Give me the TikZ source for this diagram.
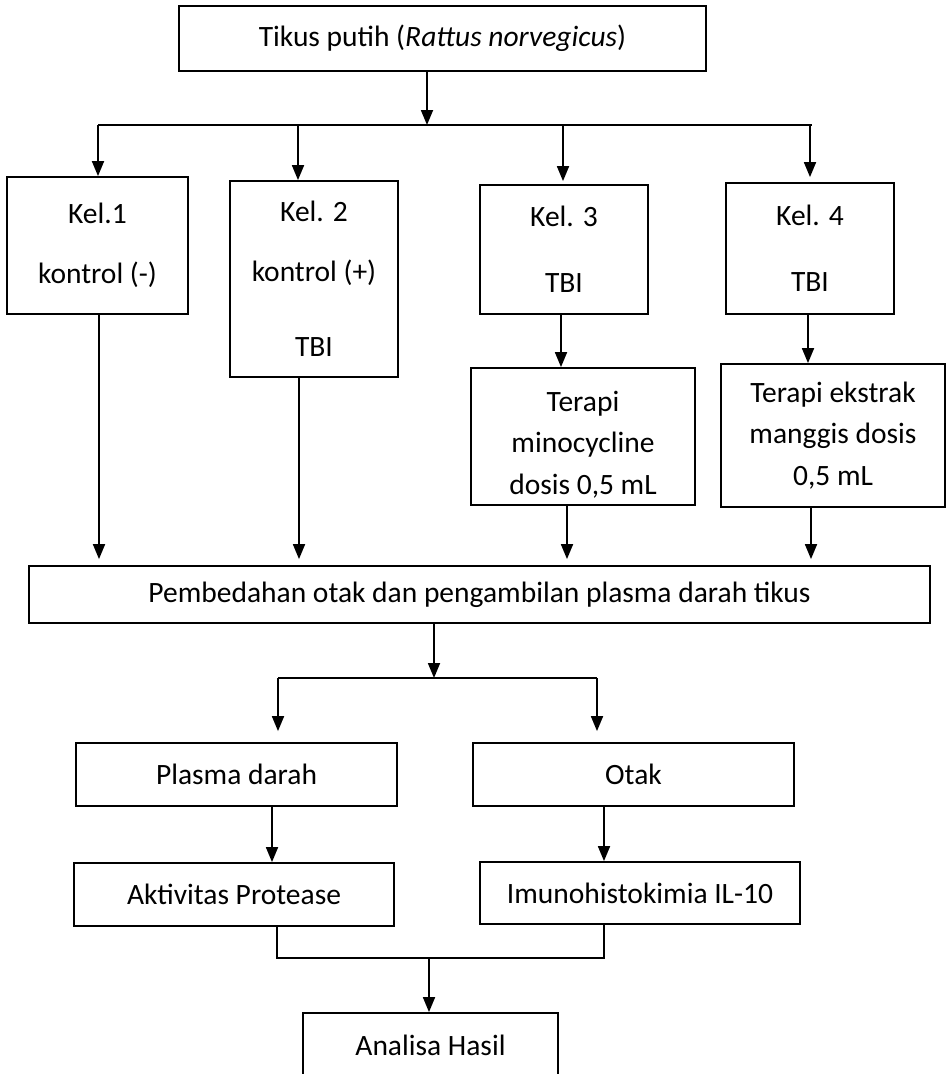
\documentclass[tikz,border=0pt]{standalone}
\usepackage{fontspec}
\setmainfont{Carlito}
\usetikzlibrary{arrows.meta,calc}
\begin{document}
\begin{tikzpicture}[x=1pt,y=-1pt,
  box/.style={draw,line width=1.8pt,inner sep=0pt,align=center,font=\fontsize{29.5}{41.5}\selectfont},
  arr/.style={line width=1.8pt,-{Triangle[length=15pt,width=12pt]}},
  ln/.style={line width=1.8pt}]
\useasboundingbox (0,0) rectangle (948,1074);
\clip (0,0) rectangle (948,1074);

\node[box,minimum width=527pt,minimum height=65pt] (top) at (442.5,38.5) {Tikus putih (\textit{Rattus norvegicus})};

\node[box,minimum width=181pt,minimum height=137pt] (kel1) at (97.5,245.5) {Kel.1\\[18pt]kontrol (-)};
\node[box,minimum width=168pt,minimum height=196pt] (kel2) at (314,279) {Kel. 2\\[18pt]kontrol (+)\\[34pt]TBI};
\node[box,minimum width=168pt,minimum height=129pt] (kel3) at (564,249.5) {Kel. 3\\[25pt]TBI};
\node[box,minimum width=168pt,minimum height=131pt] (kel4) at (810,248.5) {Kel. 4\\[25pt]TBI};

\node[box,minimum width=224pt,minimum height=137pt] (ter3) at (583,436.5) {\rule{0pt}{36pt}Terapi\\minocycline\\dosis 0,5 mL};
\node[box,minimum width=224pt,minimum height=143pt] (ter4) at (833,435.5) {Terapi ekstrak\\manggis dosis\\0,5 mL};

\node[box,minimum width=901pt,minimum height=57pt] (pemb) at (479.5,594.5) {Pembedahan otak dan pengambilan plasma darah tikus};

\node[box,minimum width=321pt,minimum height=63pt] (plasma) at (236.5,774.5) {Plasma darah};
\node[box,minimum width=321pt,minimum height=63pt] (otak) at (633.5,774.5) {Otak};

\node[box,minimum width=320pt,minimum height=63pt] (akt) at (234,894.5) {Aktivitas Protease};
\node[box,minimum width=320pt,minimum height=62pt] (imu) at (640,893) {Imunohistokimia IL-10};

\node[box,minimum width=255pt,minimum height=64pt] (anal) at (430.5,1045) {Analisa Hasil};

% first branch
\coordinate (bL) at (98,125);
\coordinate (bR) at (812,125);
\draw[ln] (bL) -- (bR);
\draw[arr] ([xshift=-15.5pt]top.south) -- ([xshift=-15.5pt]top.south |- bL);
\draw[arr] (bL) -- (bL |- kel1.north);
\draw[arr] ([xshift=-16pt]kel2.north |- bL) -- ([xshift=-16pt]kel2.north);
\draw[arr,shorten >=3pt] ([xshift=-1pt]kel3.north |- bL) -- ([xshift=-1pt]kel3.north);
\draw[arr,shorten >=5pt] (kel4.north |- bL) -- (kel4.north);

% kel -> terapi
\draw[arr] ([xshift=-3pt]kel3.south) -- ([xshift=-3pt]kel3.south |- ter3.north);
\draw[arr] ([xshift=-2pt]kel4.south) -- ([xshift=-2pt]kel4.south |- ter4.north);

% into pembedahan
\draw[arr,shorten >=6pt] ([xshift=1.5pt]kel1.south) -- ([xshift=1.5pt]kel1.south |- pemb.north);
\draw[arr,shorten >=6pt] ([xshift=-15pt]kel2.south) -- ([xshift=-15pt]kel2.south |- pemb.north);
\draw[arr,shorten >=6pt] ([xshift=-16pt]ter3.south) -- ([xshift=-16pt]ter3.south |- pemb.north);
\draw[arr,shorten >=6pt] ([xshift=-22pt]ter4.south) -- ([xshift=-22pt]ter4.south |- pemb.north);

% second branch
\coordinate (cL) at (278,678);
\coordinate (cR) at (597,678);
\draw[ln] (cL) -- (cR);
\draw[arr] ([xshift=-45.5pt]pemb.south) -- ([xshift=-45.5pt]pemb.south |- cL);
\draw[arr,shorten >=11pt] (cL) -- (cL |- plasma.north);
\draw[arr,shorten >=11pt] (cR) -- (cR |- otak.north);

% plasma/otak -> analyses
\draw[arr] ([xshift=35.5pt]plasma.south) -- ([xshift=35.5pt]plasma.south |- akt.north);
\draw[arr] ([xshift=-29.5pt]otak.south) -- ([xshift=-29.5pt]otak.south |- imu.north);

% merge
\coordinate (m) at (429,958);
\draw[ln] ([xshift=43pt]akt.south) |- (m) -| ([xshift=-36pt]imu.south);
\draw[arr] (m) -- (m |- anal.north);
\end{tikzpicture}
\end{document}
